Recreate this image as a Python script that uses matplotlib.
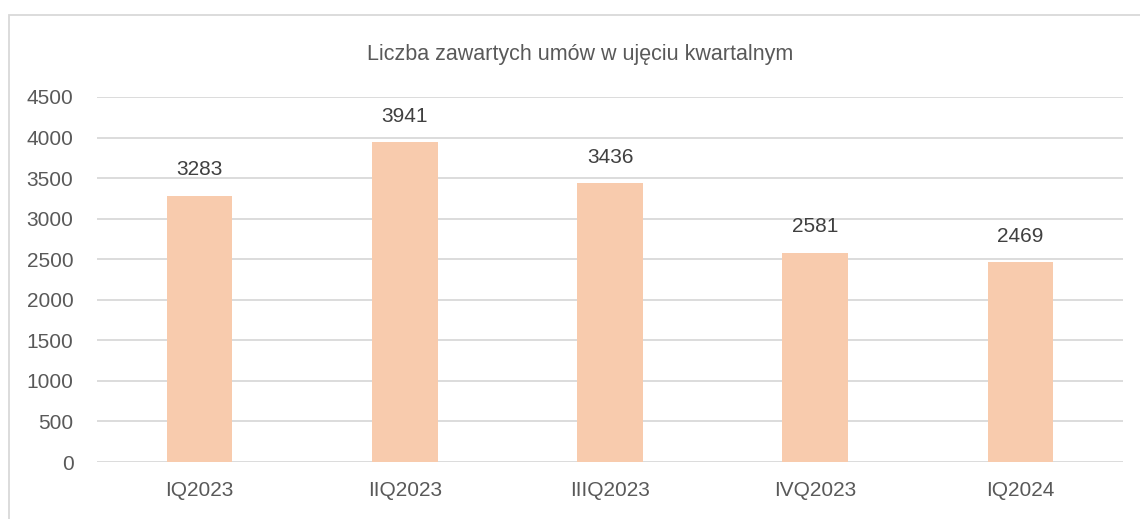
import matplotlib
matplotlib.use("Agg")
import matplotlib.pyplot as plt
from matplotlib.patches import Rectangle

quarters = ["IQ2023", "IIQ2023", "IIIQ2023", "IVQ2023", "IQ2024"]
contracts = [3283, 3941, 3436, 2581, 2469]
title = "Liczba zawartych umów w ujęciu kwartalnym"

W, H = 1140, 519
plt.rcParams['font.family'] = ['Liberation Sans', 'DejaVu Sans']
text_color = '#595959'

fig = plt.figure(figsize=(W / 100, H / 100), dpi=100)
ax = fig.add_axes([97 / W, 1 - 462 / H, (1123 - 97) / W, (462 - 97) / H])

x = range(len(quarters))
bars = ax.bar(x, contracts, width=0.32, color='#F8CBAD', zorder=3)
for b, v in zip(bars, contracts):
    ax.text(b.get_x() + b.get_width() / 2, v + 200, str(v), ha='center', va='bottom',
            fontsize=15, color='#404040')

ax.set_xlim(-0.5, len(quarters) - 0.5)
ax.set_ylim(0, 4500)
ax.set_yticks(range(0, 4501, 500))
ax.set_xticks(list(x))
ax.set_xticklabels(quarters)
ax.yaxis.grid(True, color='#D9D9D9', linewidth=1.3, zorder=0)
for s in ax.spines.values():
    s.set_visible(False)
ax.tick_params(length=0, labelsize=15, colors=text_color)
ax.tick_params(axis='y', pad=17)
ax.tick_params(axis='x', pad=14)

fig.text(580 / W, 1 - 54 / H, title, ha='center', va='center', fontsize=15.5, color=text_color)

# chart frame (only left and top edges visible in the crop)
fig.patches.append(Rectangle((9 / W, -0.1), 1.2, 1 - 15 / H + 0.1, transform=fig.transFigure,
                             fill=False, edgecolor='#D9D9D9', linewidth=1.3))

fig.savefig("out.png", dpi=100)
